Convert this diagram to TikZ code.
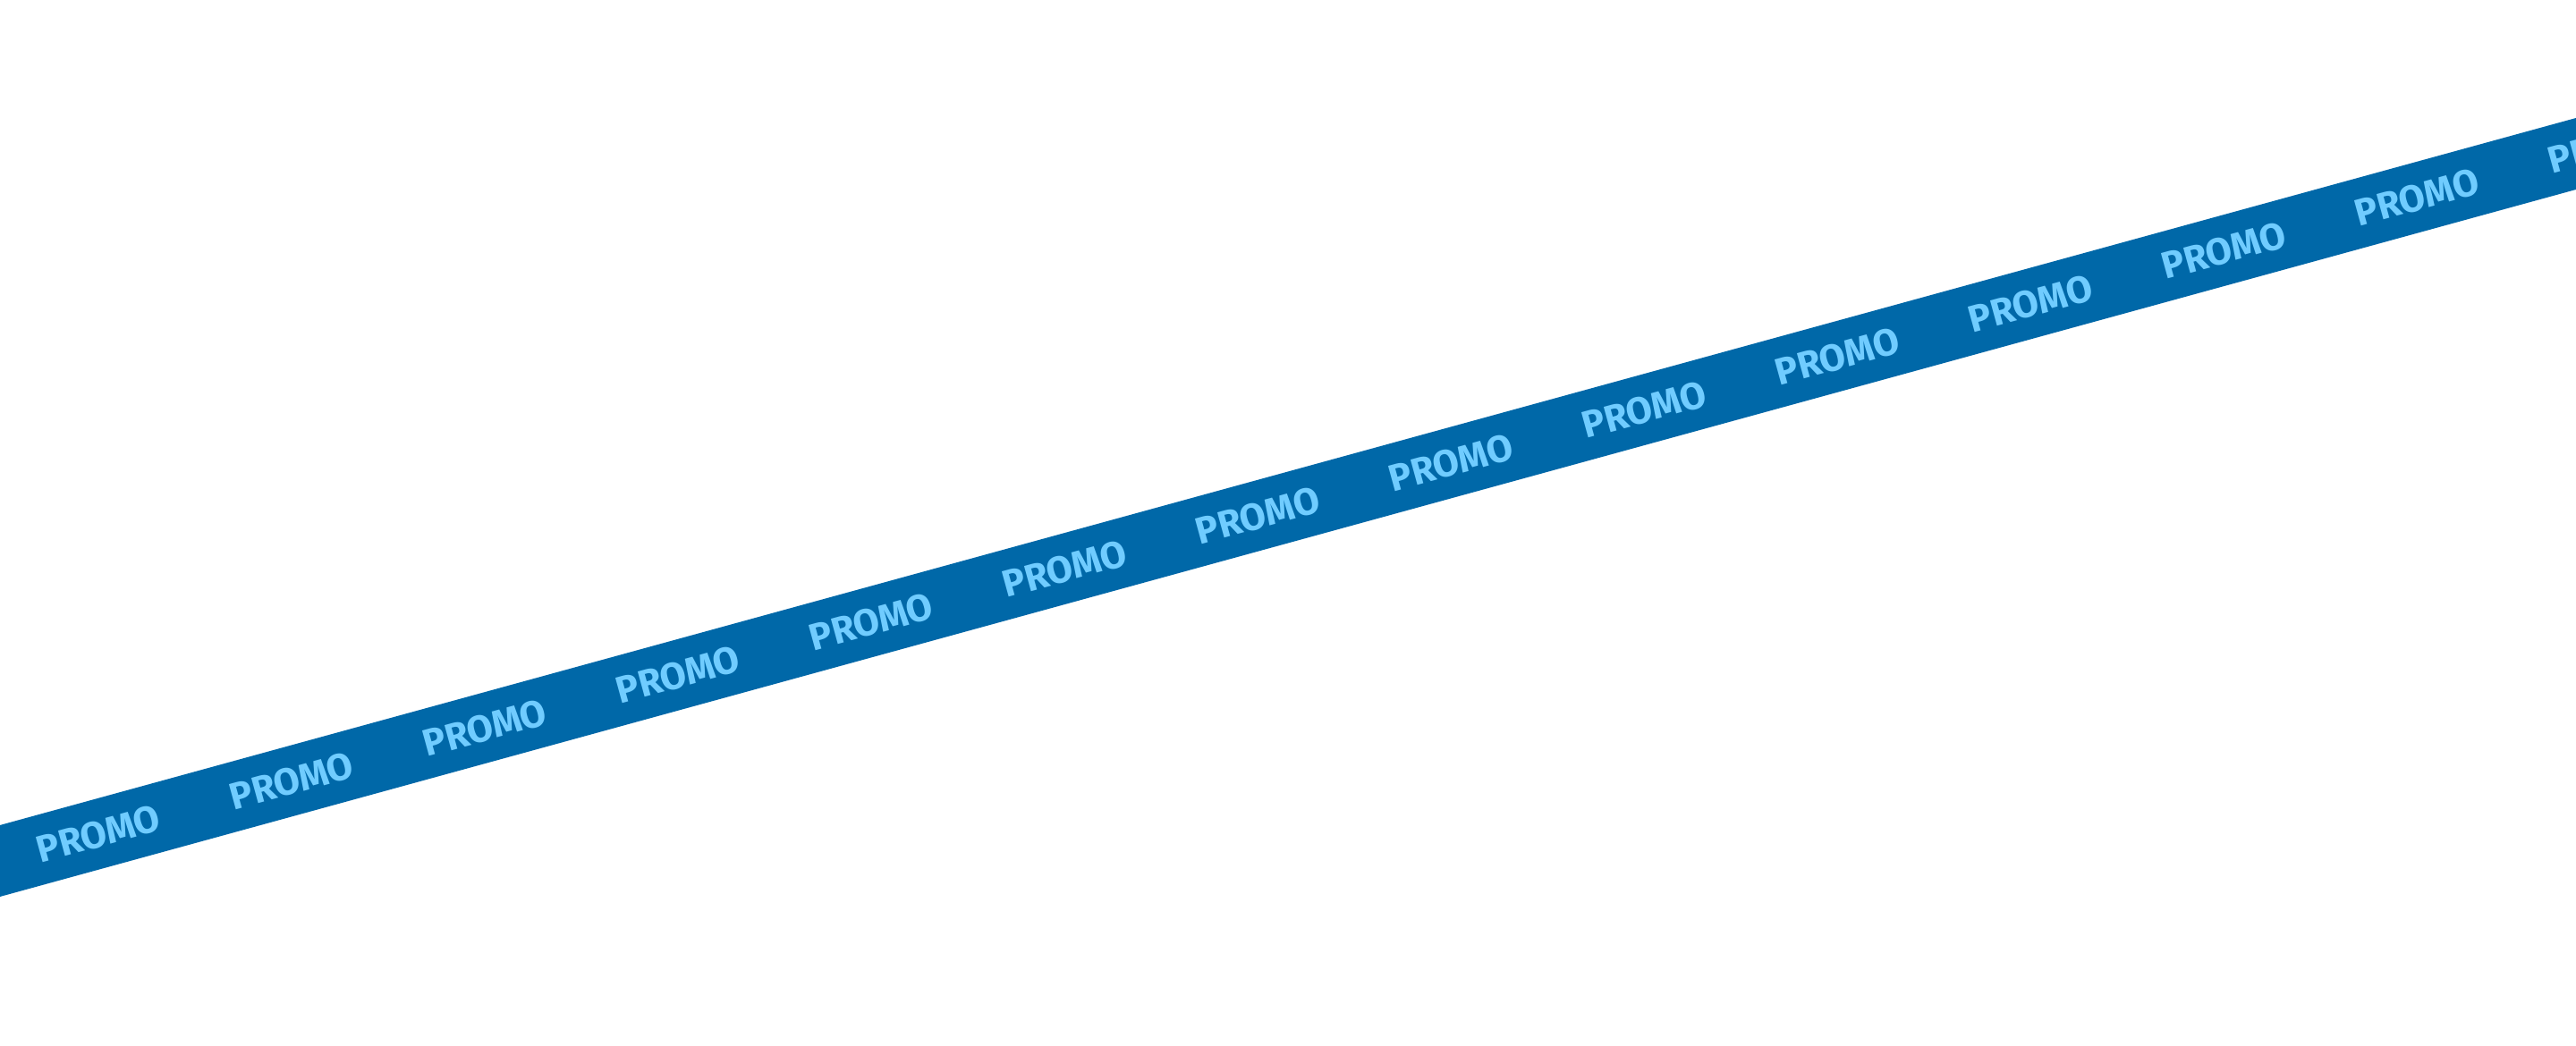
\documentclass[tikz,border=0pt]{standalone}
\usepackage{fontspec}
\setmainfont{Fira Sans}
\usepackage{tikz}
\definecolor{bandBlue}{HTML}{0068A8}
\definecolor{textBlue}{HTML}{70CCFF}

\begin{document}
\begin{tikzpicture}
        % --- DEFINITIONS ---
        \def \bandAngle {15.36}
        \def \bandSlope {0.2747}
        \def \startX {1.1}
        \def \textSep {2.16}
        \tikzset{promolabel/.style={text=textBlue, font=\fontsize{12}{14}\selectfont\bfseries, rotate=\bandAngle, inner sep=0pt}}
        \useasboundingbox (0,0) rectangle (28.8,11.7);
        \clip (0,0) rectangle (28.8,11.7);
        % --- BAND ---
        \fill [bandBlue] (0,1.67) -- (28.8,9.58) -- (28.8,10.38) -- (0,2.47) -- cycle;
        % --- TEXT ---
        \foreach \i in {0,...,13} {
            \node [promolabel] (promo\i) at (\startX+\i*\textSep, 2.07+\bandSlope*\startX+\bandSlope*\i*\textSep) {PROMO};
        }
    \end{tikzpicture}
\end{document}
